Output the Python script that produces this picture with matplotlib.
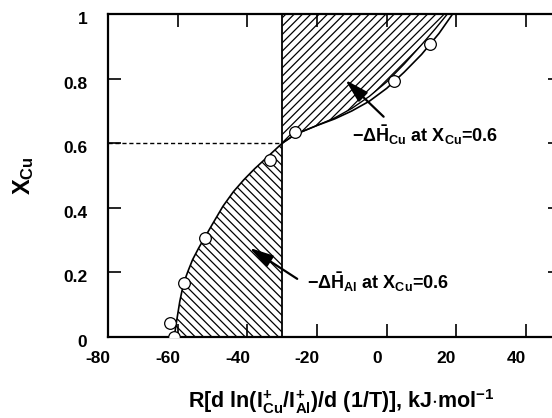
import matplotlib
matplotlib.use("Agg")
import matplotlib.pyplot as plt
from matplotlib.transforms import ScaledTranslation

plt.rcParams["font.family"] = ["Liberation Sans", "DejaVu Sans"]
plt.rcParams["font.weight"] = "bold"
plt.rcParams["mathtext.fontset"] = "custom"
plt.rcParams["mathtext.rm"] = "Liberation Sans"
plt.rcParams["mathtext.bf"] = "Liberation Sans:bold"
plt.rcParams["mathtext.it"] = "Liberation Sans:italic"
plt.rcParams["hatch.linewidth"] = 0.9
plt.rcParams["axes.unicode_minus"] = False

# measured points (open circles)
point_x = [-61.1, -62.2, -58.3, -52.2, -33.6, -26.3, 2.1, 12.4]
point_xcu = [0.0, 0.042, 0.167, 0.306, 0.548, 0.635, 0.793, 0.906]

# fitted curve, Al-rich side (below X_Cu = 0.6)
low_x = [-61.0, -60.3, -59.4, -58.3, -57.0, -55.7, -54.0, -52.3, -50.0, -47.0,
         -44.0, -41.0, -38.0, -35.0, -32.5, -30.0]
low_xcu = [0.0, 0.05, 0.11, 0.167, 0.205, 0.24, 0.275, 0.307, 0.35, 0.405,
           0.45, 0.487, 0.52, 0.55, 0.575, 0.600]

# fitted curve, Cu-rich side (above X_Cu = 0.6)
up_x = [-30.0, -26.3, -20.0, -15.0, -10.0, -5.0, 0.0, 5.0, 10.0, 15.0, 18.9]
up_xcu = [0.600, 0.627, 0.655, 0.675, 0.700, 0.730, 0.770, 0.820, 0.875, 0.940, 1.0]

# edge of the hatched area on the Cu-rich side
edge_x = [-30.0, -26.3, -20.0, -15.0, -10.0, -5.0, 0.0, 5.0, 10.0, 14.0, 17.4]
edge_xcu = [0.600, 0.627, 0.655, 0.678, 0.708, 0.745, 0.790, 0.845, 0.905, 0.955, 1.0]

X_REF = -30.0     # slope at X_Cu = 0.6
XCU_REF = 0.6

x_ticks = [-80, -60, -40, -20, 0, 20, 40]
y_ticks = [0, 0.2, 0.4, 0.6, 0.8, 1]
y_ticklabels = ["0", "0.2", "0.4", "0.6", "0.8", "1"]

fig = plt.figure(figsize=(5.52, 4.18), dpi=100, facecolor="white")
ax = fig.add_axes([108 / 552, 81 / 418, 453 / 552, 323 / 418])
ax.set_xlim(-80, 50)
ax.set_ylim(0, 1)

# hatched areas
ax.fill(low_x + [X_REF, X_REF], low_xcu + [0.0, 0.0],
        facecolor="none", edgecolor="black", linewidth=0, hatch="\\\\\\\\")
ax.fill(edge_x + [X_REF], edge_xcu + [1.0],
        facecolor="none", edgecolor="black", linewidth=0, hatch="////")

ax.plot(low_x, low_xcu, color="black", lw=1.2)
ax.plot(up_x, up_xcu, color="black", lw=1.2)
ax.plot(edge_x, edge_xcu, color="black", lw=1.0)
ax.plot([X_REF, X_REF], [0, 1], color="black", lw=1.3)
ax.plot([-80, X_REF], [XCU_REF, XCU_REF], color="black", lw=1.0,
        linestyle=(0, (3, 2)))

ax.plot(point_x, point_xcu, "o", markersize=8.4, markerfacecolor="white",
        markeredgecolor="black", markeredgewidth=0.9, zorder=5)

arrow = dict(arrowstyle="-|>,head_length=0.8,head_width=0.22", mutation_scale=18,
             color="black", lw=1.6, shrinkA=0, shrinkB=0)
ax.annotate("", xy=(-11.9, 0.796), xytext=(-0.9, 0.682), arrowprops=arrow)
ax.annotate("", xy=(-39.4, 0.276), xytext=(-25.7, 0.180), arrowprops=arrow)

ax.text(-10.0, 0.625, r"$-\Delta\bar{\mathbf{H}}_{\mathbf{Cu}}$ at X$_{\mathbf{Cu}}$=0.6",
        fontsize=13, fontweight="bold", ha="left", va="center")
ax.text(-22.9, 0.170, r"$-\Delta\bar{\mathbf{H}}_{\mathbf{Al}}$ at X$_{\mathbf{Cu}}$=0.6",
        fontsize=13, fontweight="bold", ha="left", va="center")

ax.set_xticks(x_ticks)
ax.set_yticks(y_ticks)
ax.set_yticklabels(y_ticklabels)
ax.tick_params(direction="in", length=9.5, width=1.2, top=True, right=True,
               labelsize=12.5)
ax.tick_params(axis="x", pad=10)
ax.tick_params(axis="y", pad=15)
for lab in ax.get_xticklabels():
    lab.set_fontweight("bold")
    lab.set_transform(lab.get_transform() + ScaledTranslation(-0.10, 0, fig.dpi_scale_trans))
for lab in ax.get_yticklabels():
    lab.set_fontweight("bold")
    lab.set_transform(lab.get_transform() + ScaledTranslation(0, -0.04, fig.dpi_scale_trans))
for sp in ax.spines.values():
    sp.set_linewidth(1.6)

ax.set_xlabel(r"R[d ln(I$^{\mathbf{+}}_{\mathbf{Cu}}$/I$^{\mathbf{+}}_{\mathbf{Al}}$)/d (1/T)], kJ$\cdot$mol$^{\mathbf{-1}}$",
              fontsize=15.5, fontweight="bold")
ax.xaxis.set_label_coords(0.514, -0.155)
ax.set_ylabel(r"X$_{\mathbf{Cu}}$", fontsize=17, fontweight="bold")
ax.yaxis.set_label_coords(-0.16, 0.5)

fig.savefig("out.png", dpi=100, facecolor="white")
